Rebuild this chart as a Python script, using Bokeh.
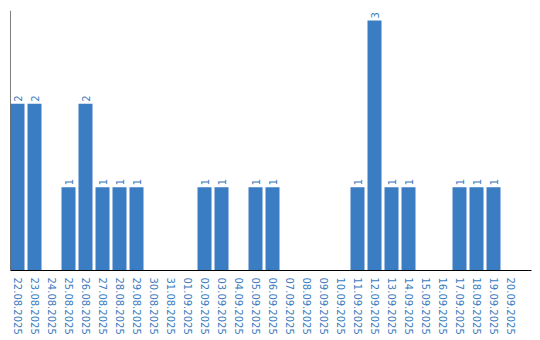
import math
from bokeh.plotting import figure
from bokeh.models import Range1d, FixedTicker, Span, ColumnDataSource
from bokeh.core.properties import value
from bokeh.embed import file_html
from bokeh.resources import INLINE

dates = ["22.08.2025", "23.08.2025", "24.08.2025", "25.08.2025", "26.08.2025",
         "27.08.2025", "28.08.2025", "29.08.2025", "30.08.2025", "31.08.2025",
         "01.09.2025", "02.09.2025", "03.09.2025", "04.09.2025", "05.09.2025",
         "06.09.2025", "07.09.2025", "08.09.2025", "09.09.2025", "10.09.2025",
         "11.09.2025", "12.09.2025", "13.09.2025", "14.09.2025", "15.09.2025",
         "16.09.2025", "17.09.2025", "18.09.2025", "19.09.2025", "20.09.2025"]
counts = [2, 2, 0, 1, 2, 1, 1, 1, 0, 0,
          0, 1, 1, 0, 1, 1, 0, 0, 0, 0,
          1, 3, 1, 1, 0, 0, 1, 1, 1, 0]

BAR = "#3b7dc3"
TXT = "#3b7cc0"

xs = [i + 0.5 for i in range(len(dates))]

p = figure(frame_width=521, frame_height=260, output_backend="svg",
           toolbar_location=None, x_range=Range1d(0.088, 30.735),
           y_range=Range1d(0, 3.12), min_border_left=10, min_border_top=10,
           min_border_right=9, min_border_bottom=0)

src = ColumnDataSource(dict(x=xs, top=counts, d=dates))
p.vbar(x="x", top="top", width=14/17, source=src, color=BAR, line_color=None)

lx = [x for x, c in zip(xs, counts) if c > 0]
ly = [c for c in counts if c > 0]
lt = [str(c) for c in counts if c > 0]
p.text(x=lx, y=ly, text=lt, angle=math.pi/2, text_align="left",
       text_baseline="middle", y_offset=-2, text_color=TXT,
       text_font=value("DejaVu Sans"), text_font_size="10px")

p.xgrid.visible = False
p.ygrid.visible = False
p.outline_line_color = None
p.yaxis.visible = False
p.add_layout(Span(location=0.088, dimension="height", line_color="black", line_width=1))

ax = p.xaxis[0]
ax.ticker = FixedTicker(ticks=xs)
ax.major_label_overrides = {x: d for x, d in zip(xs, dates)}
ax.major_label_orientation = "vertical"
ax.major_tick_in = 0
ax.major_tick_out = 0
ax.minor_tick_in = 0
ax.minor_tick_out = 0
ax.major_label_standoff = 7
ax.axis_line_color = "black"
ax.axis_line_width = 1
ax.major_label_text_color = TXT
ax.major_label_text_font = "DejaVu Sans"
ax.major_label_text_font_size = "10px"

open("out.html", "w").write(file_html(p, INLINE))
